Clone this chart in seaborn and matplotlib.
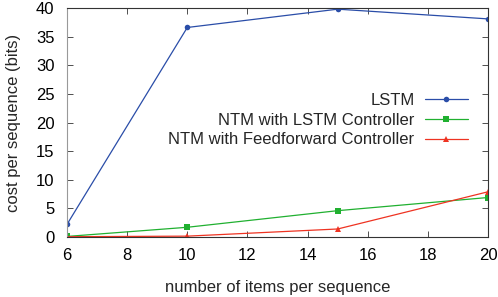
import numpy as np
import pandas as pd
import matplotlib.pyplot as plt
import seaborn as sns

# ── Data ──────────────────────────────────────────────────────────────────────

ITEMS      = [6, 10, 15, 20]
LSTM       = [2.2, 36.6, 39.8, 38.1]
NTM_LSTM   = [0.1, 1.7, 4.6, 6.9]
NTM_FF     = [0.05, 0.15, 1.4, 7.9]

SERIES = [
    ("LSTM",                           LSTM,     "#2a4da8", "o", 4.0),
    ("NTM with LSTM Controller",       NTM_LSTM, "#20b030", "s", 4.0),
    ("NTM with Feedforward Controller", NTM_FF,  "#ee3322", "^", 4.0),
]

X_TICKS = [6, 8, 10, 12, 14, 16, 18, 20]
Y_TICKS = [0, 5, 10, 15, 20, 25, 30, 35, 40]

FS = 12

# ── Plot ──────────────────────────────────────────────────────────────────────

sns.set_style("ticks")
plt.rcParams["font.family"] = ["Liberation Sans", "DejaVu Sans"]

fig = plt.figure(figsize=(4.98, 2.97), dpi=100)
ax = fig.add_axes([0.1345, 0.202, 0.8455, 0.771])

for label, vals, color, marker, ms in SERIES:
    df = pd.DataFrame({"x": ITEMS, "y": vals})
    sns.lineplot(data=df, x="x", y="y", ax=ax, color=color, marker=marker,
                 markersize=ms, markeredgewidth=0, linewidth=0.9, label=label)

ax.set_xlim(6, 20)
ax.set_ylim(0, 40)
ax.set_xticks(X_TICKS)
ax.set_yticks(Y_TICKS)
ax.tick_params(axis="both", direction="in", length=4, width=0.6, top=True,
               right=True, labelsize=FS, colors="#333333", labelcolor="black")
ax.tick_params(axis="x", pad=8)
ax.tick_params(axis="y", pad=9)
for spine in ax.spines.values():
    spine.set_visible(True)
    spine.set_linewidth(0.8)
    spine.set_color("#333333")
ax.spines["left"].set_color("#999999")

ax.set_xlabel("number of items per sequence", fontsize=FS, labelpad=12)
ax.set_ylabel("cost per sequence (bits)", fontsize=FS, labelpad=11)

ax.legend(loc="center right", bbox_to_anchor=(0.968, 0.51), markerfirst=False,
          frameon=False, fontsize=FS, handlelength=2.6, handletextpad=0.6,
          labelspacing=0.28, borderaxespad=0)

fig.savefig("out.png", dpi=100)
